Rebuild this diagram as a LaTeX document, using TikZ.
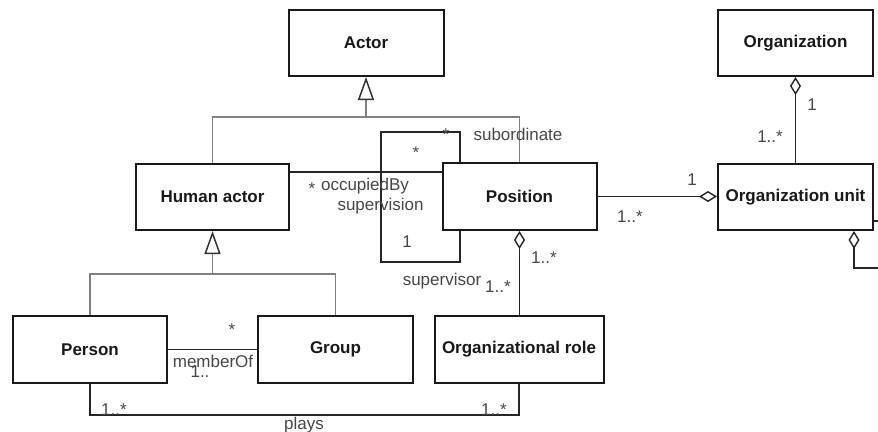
\documentclass[tikz,border=0pt]{standalone}
\usepackage{fontspec}
\setmainfont{Liberation Sans}
\usetikzlibrary{arrows.meta}
\begin{document}
\begin{tikzpicture}[x=1pt,y=-1pt,
  box/.style={draw=black!90, line width=2pt, minimum width=155pt, minimum height=66pt,
    inner sep=0pt, font=\fontsize{17}{20}\selectfont\bfseries, text=black!90},
  lbl/.style={anchor=base, inner sep=0pt, font=\fontsize{17}{20}\selectfont, text=black!72},
  gen/.style={draw=black!50, line width=1.8pt},
  gentip/.style={-{Triangle[open, length=23pt, width=16pt, color=black!80, line width=1.5pt]}},
  assoc/.style={draw=black!85, line width=1.6pt},
  agg/.style={-{Diamond[open, length=18pt, width=11pt, line width=1.4pt]}},
  aggstart/.style={{Diamond[open, length=18pt, width=11pt, line width=1.4pt]}-}
]
\useasboundingbox (0,0) rectangle (878,431);

% classes
\node[box] (actor) at (366,43) {Actor};
\node[box] (org) at (795.5,43) {Organization};
\node[box, minimum width=153pt] (human) at (212.5,197) {Human actor};
\node[box, minimum width=154pt, minimum height=67pt] (pos) at (519.5,196.5) {Position};
\node[box] (ounit) at (795.5,197) {Organization unit};
\node[box, minimum width=154pt, minimum height=67pt] (person) at (90,349.5) {Person};
\node[box, minimum height=67pt] (group) at (335.5,349.5) {Group};
\node[box, minimum width=169pt, minimum height=67pt] (orole) at (519,349.5) {Organizational role};

% generalizations
\coordinate (j1) at (366,117);
\draw[gen] (human.north) |- (j1) -| (pos.north);
\draw[gen, gentip] (j1) -- (actor.south);
\coordinate (j2) at (212.5,274);
\draw[gen] (person.north) |- (j2) -| (group.north);
\draw[gen, gentip] (j2) -- (human.south);

% associations
\draw[assoc] ([yshift=25pt]human.east) -- ([yshift=24.5pt]pos.west);
\coordinate (lpa) at (381,132);
\coordinate (lpb) at (381,262);
\draw[assoc] ([xshift=18.5pt]pos.north west) |- (lpa) -- (lpb) -| ([xshift=18.5pt]pos.south west);
\draw[assoc, aggstart] (pos.south) -- (pos.south |- orole.north);
\draw[assoc, agg] (pos.east) -- (pos.east -| ounit.west);
\draw[assoc, agg] (ounit.north) -- (org.south);
\coordinate (s1) at (878,221);
\draw[assoc] (ounit.east |- s1) -- (s1);
\coordinate (s2) at (878,268);
\draw[assoc, agg] (s2) -| ([xshift=-20pt]ounit.south east);
\draw[assoc] (person.east) -- (group.west);
\draw[assoc] (person.south) |- ([yshift=-31pt]orole.south) -- (orole.south);

% labels
\node[lbl] (l1) at (446,140) {*};
\node[lbl] (l2) at (518,140) {subordinate};
\node[lbl] (l3) at (416,158) {*};
\node[lbl] (l4) at (312,194) {*};
\node[lbl] (l5) at (365,190) {occupiedBy};
\node[lbl] (l6) at (380.5,210) {supervision};
\node[lbl] (l7) at (407,247) {1};
\node[lbl] (l8) at (442,285) {supervisor};
\node[lbl] (l9) at (498,292) {1..*};
\node[lbl] (l10) at (544,263) {1..*};
\node[lbl] (l11) at (692,185) {1};
\node[lbl] (l12) at (630,222) {1..*};
\node[lbl] (l13) at (812,110) {1};
\node[lbl] (l14) at (770,142) {1..*};
\node[lbl] (l15) at (232,335) {*};
\node[lbl] (l16) at (213,367) {memberOf};
\node[lbl] (l17) at (200,377) {1..};
\node[lbl] (l18) at (114,415) {1..*};
\node[lbl] (l19) at (494,415) {1..*};
\node[lbl] (l20) at (304,429) {plays};
\end{tikzpicture}
\end{document}
